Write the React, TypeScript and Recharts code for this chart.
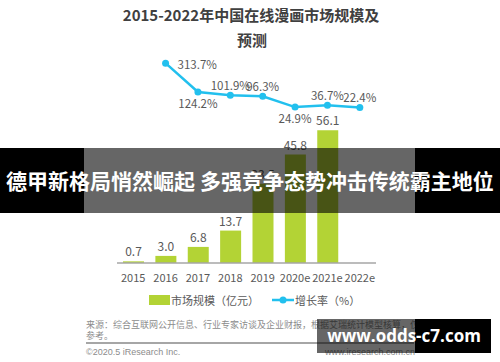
import { ComposedChart, Bar, Line, XAxis, YAxis, LabelList } from "recharts";

const years = ["2015", "2016", "2017", "2018", "2019", "2020e", "2021e", "2022e"];
const marketSize = [0.7, 3.0, 6.8, 13.7, 33.5, 45.8, 56.1];
const growthRate = [null, 313.7, 124.2, 101.9, 96.3, 24.9, 36.7, 22.4];

// where each growth label sits relative to its point
const rateLabelSide = ["", "right", "below", "above", "above", "below", "above", "above"];

const FONT = '"Noto Sans CJK SC", "Noto Sans", sans-serif';
const GREEN = "#b3d335";
const BLUE = "#22c0ee";
const TEXT = "#595959";

const data = years.map((y, i) => ({
    year: y,
    size: marketSize[i] ?? null,
    rate: growthRate[i],
}));

const RateLabel = (props: any) => {
    const { x, y, value, index } = props;
    if (value == null) return null;
    const side = rateLabelSide[index];
    let tx = x;
    let ty = y;
    let anchor: "start" | "middle" = "middle";
    if (side === "right") {
        tx = x + 12;
        ty = y + 1;
        anchor = "start";
    } else if (side === "below") {
        ty = y + 11;
    } else {
        ty = y - 10;
    }
    return (
        <text x={tx} y={ty} textAnchor={anchor} dominantBaseline="central" fontSize={11.5} fill={TEXT} fontFamily={FONT}>
            {`${value.toFixed(1)}%`}
        </text>
    );
};

const ChartLegend = () => (
    <div style={{ position: "absolute", left: 0, top: 290, width: 500, height: 20, fontFamily: FONT, fontSize: 11, color: TEXT }}>
        <div style={{ position: "absolute", left: 149, top: 5, width: 21, height: 10, background: GREEN }} />
        <div style={{ position: "absolute", left: 171, top: 2, lineHeight: "16px" }}>市场规模（亿元）</div>
        <svg style={{ position: "absolute", left: 271, top: 2 }} width={24} height={16}>
            <line x1={1} y1={8} x2={23} y2={8} stroke={BLUE} strokeWidth={2.5} />
            <circle cx={12} cy={8} r={3.5} fill={BLUE} />
        </svg>
        <div style={{ position: "absolute", left: 295, top: 2, lineHeight: "16px" }}>增长率（%）</div>
    </div>
);

export default function App() {
    return (
        <div style={{ position: "absolute", left: 0, top: 0, width: 500, height: 362, background: "#fff", overflow: "hidden", fontFamily: FONT }}>
            <div style={{ position: "absolute", left: 0, top: 5, width: 502, textAlign: "center", fontSize: 15, fontWeight: 700, color: "#404040", lineHeight: "20px" }}>
                2015-2022年中国在线漫画市场规模及
            </div>
            <div style={{ position: "absolute", left: 0, top: 30, width: 504, textAlign: "center", fontSize: 15, fontWeight: 700, color: "#404040", lineHeight: "20px" }}>
                预测
            </div>
            <ComposedChart
                width={500}
                height={362}
                data={data}
                margin={{ top: 50, right: 124, bottom: 69, left: 117 }}
            >
                <XAxis
                    dataKey="year"
                    height={30}
                    tickLine={false}
                    axisLine={{ stroke: "#a6a6a6", strokeWidth: 1.5 }}
                    tick={{ fontSize: 11, fill: TEXT, fontFamily: FONT }}
                    tickMargin={5}
                    interval={0}
                />
                <YAxis yAxisId="size" hide domain={[0, 90]} />
                <YAxis yAxisId="rate" hide orientation="right" domain={[-1000, 400]} />
                <Bar yAxisId="size" dataKey="size" fill={GREEN} barSize={21} isAnimationActive={false}>
                    <LabelList dataKey="size" position="top" offset={5} fontSize={12} fill={TEXT} fontFamily={FONT} formatter={(v: any) => (v == null ? "" : Number(v).toFixed(1))} />
                </Bar>
                <Line
                    yAxisId="rate"
                    dataKey="rate"
                    stroke={BLUE}
                    strokeWidth={2.5}
                    dot={{ r: 3.5, fill: BLUE, stroke: BLUE, strokeWidth: 0 }}
                    isAnimationActive={false}
                    connectNulls
                >
                    <LabelList dataKey="rate" content={RateLabel} />
                </Line>
            </ComposedChart>
            <ChartLegend />

            <div style={{ position: "absolute", left: 86, top: 319, fontSize: 9, color: "#8c8c8c", lineHeight: "11px", whiteSpace: "nowrap" }}>
                来源：综合互联网公开信息、行业专家访谈及企业财报，根据艾瑞统计模型核算，仅供
            </div>
            <div style={{ position: "absolute", left: 86, top: 330, fontSize: 9, color: "#8c8c8c", lineHeight: "11px", whiteSpace: "nowrap" }}>
                参考。
            </div>
            <div style={{ position: "absolute", left: 86, top: 342, width: 328, height: 2, background: "#a6a6a6" }} />
            <div style={{ position: "absolute", left: 86, top: 347, fontSize: 9, color: "#8c8c8c", fontFamily: '"Liberation Sans", sans-serif' }}>©2020.5 iResearch Inc.</div>
            <div style={{ position: "absolute", left: 325, top: 347, fontSize: 9, color: "#8c8c8c", fontFamily: '"Liberation Sans", sans-serif' }}>www.iresearch.com.cn</div>

            {/* banner overlay */}
            <div style={{ position: "absolute", left: 0, top: 148, width: 84, height: 65, background: "#000" }} />
            <div style={{ position: "absolute", left: 84, top: 148, width: 331, height: 65, background: "rgba(0,0,0,0.6)" }} />
            <div style={{ position: "absolute", left: 415, top: 148, width: 85, height: 65, background: "#000" }} />
            <div style={{ position: "absolute", left: 0, top: 148, width: 500, height: 65, lineHeight: "65px", textAlign: "center", color: "#fff", fontWeight: 700, fontSize: 21, whiteSpace: "nowrap" }}>
                德甲新格局悄然崛起 多强竞争态势冲击传统霸主地位
            </div>

            {/* watermark */}
            <div style={{ position: "absolute", left: 317, top: 319, width: 98, height: 34, background: "rgba(0,0,0,0.6)" }} />
            <div style={{ position: "absolute", left: 415, top: 319, width: 76, height: 34, background: "#000" }} />
            <div style={{ position: "absolute", left: 317, top: 319, width: 174, height: 34, lineHeight: "34px", textAlign: "center", color: "#fff", fontWeight: 700, fontSize: 17, fontFamily: '"Open Sans", sans-serif', whiteSpace: "nowrap" }}>
                www.odds-c7.com
            </div>
        </div>
    );
}
